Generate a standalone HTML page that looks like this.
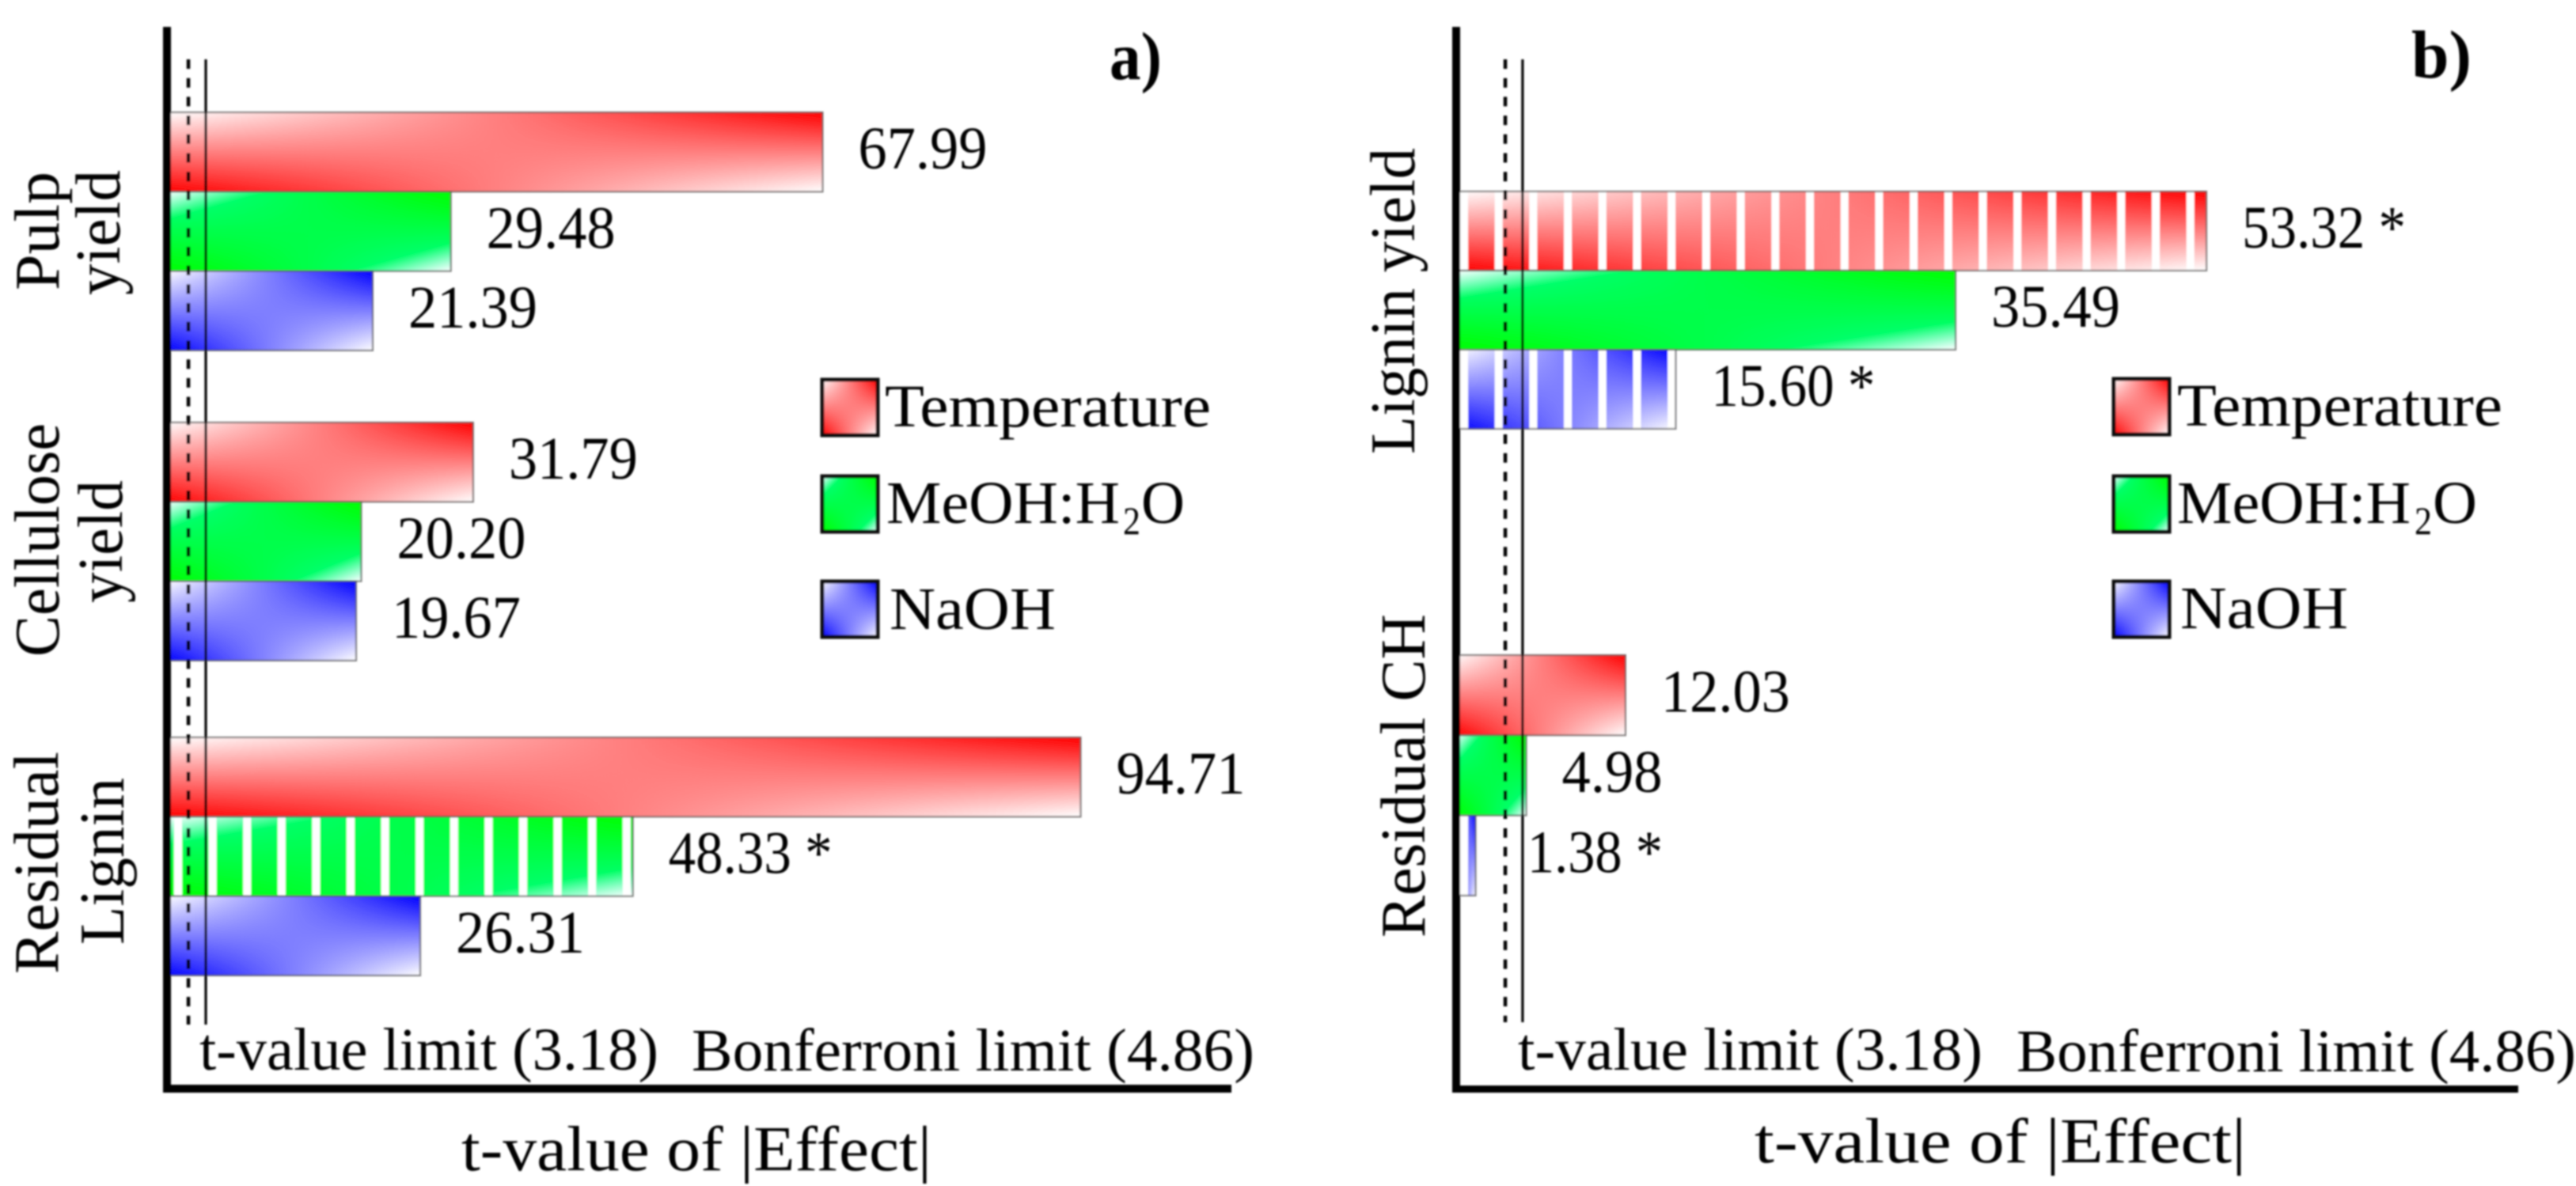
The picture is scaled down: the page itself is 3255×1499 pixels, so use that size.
<!DOCTYPE html>
<html lang="en">
<head>
<meta charset="utf-8">
<title>t-value of |Effect| charts</title>
<style>
html,body{margin:0;padding:0;background:#fff;}
body{width:3255px;height:1499px;overflow:hidden;}
svg{display:block;}
text{font-family:"Liberation Serif",serif;fill:#000;font-size:76px;}
.axis-label{font-size:80px;}
.title{font-weight:bold;font-size:86px;}
</style>
</head>
<body>
<svg id="chart" xmlns="http://www.w3.org/2000/svg" width="3255" height="1499" viewBox="0 0 3255 1499">
<defs>
  <filter id="soft" filterUnits="userSpaceOnUse" x="0" y="0" width="3255" height="1499"><feGaussianBlur stdDeviation="1.1"/></filter>
  <linearGradient id="v-fade" x1="0" y1="0" x2="0" y2="1"><stop offset="0" stop-color="#000"/><stop offset="1" stop-color="#fff"/></linearGradient>
  <mask id="v-mask" maskContentUnits="objectBoundingBox" x="0" y="0" width="1" height="1"><rect x="0" y="0" width="1" height="1" fill="url(#v-fade)"/></mask>
  <linearGradient id="red-top"><stop offset="0" stop-color="#fff"/><stop offset="1" stop-color="#f00"/></linearGradient>
  <linearGradient id="red-bottom"><stop offset="0" stop-color="#f00"/><stop offset="1" stop-color="#fff"/></linearGradient>
  <linearGradient id="blue-top"><stop offset="0" stop-color="#fff"/><stop offset="1" stop-color="#00f"/></linearGradient>
  <linearGradient id="blue-bottom"><stop offset="0" stop-color="#00f"/><stop offset="1" stop-color="#fff"/></linearGradient>
  <linearGradient id="green-top"><stop offset="0" stop-color="#00ff96"/><stop offset="1" stop-color="#0f0"/></linearGradient>
  <linearGradient id="green-bottom"><stop offset="0" stop-color="#0f0"/><stop offset="1" stop-color="#00ff96"/></linearGradient>
  <linearGradient id="green-corners" x1="0" y1="0" x2="1" y2="1">
    <stop offset="0" stop-color="#fff" stop-opacity="1"/><stop offset="0.18" stop-color="#fff" stop-opacity="0"/>
    <stop offset="0.82" stop-color="#fff" stop-opacity="0"/><stop offset="1" stop-color="#fff" stop-opacity="1"/>
  </linearGradient>
</defs>
<rect x="0" y="0" width="3255" height="1499" fill="#fff"/>
<g id="root" filter="url(#soft)">
  <g id="panel-a">
    <g id="marks-a"></g>
    <rect x="206" y="34" width="10" height="1347" fill="#000"/>
    <rect x="206" y="1371" width="1350" height="10" fill="#000"/>
    <text class="title" x="1402" y="100" textLength="66" lengthAdjust="spacingAndGlyphs">a)</text>
    <text class="axis-label" transform="translate(74 367) rotate(-90)" textLength="150" lengthAdjust="spacingAndGlyphs">Pulp</text>
    <text class="axis-label" transform="translate(151 373) rotate(-90)" textLength="158" lengthAdjust="spacingAndGlyphs">yield</text>
    <text class="axis-label" transform="translate(74 830) rotate(-90)" textLength="295" lengthAdjust="spacingAndGlyphs">Cellulose</text>
    <text class="axis-label" transform="translate(154 762) rotate(-90)" textLength="155" lengthAdjust="spacingAndGlyphs">yield</text>
    <text class="axis-label" transform="translate(73 1231) rotate(-90)" textLength="281" lengthAdjust="spacingAndGlyphs">Residual</text>
    <text class="axis-label" transform="translate(156 1194) rotate(-90)" textLength="211" lengthAdjust="spacingAndGlyphs">Lignin</text>
    <text x="252" y="1352" textLength="580" lengthAdjust="spacingAndGlyphs">t-value limit (3.18)</text>
    <text x="874" y="1353" textLength="711" lengthAdjust="spacingAndGlyphs">Bonferroni limit (4.86)</text>
    <text class="axis-label" x="583" y="1479" textLength="594" lengthAdjust="spacingAndGlyphs">t-value of |Effect|</text>
    <g>
      <text x="1118" y="539" textLength="412" lengthAdjust="spacingAndGlyphs">Temperature</text>
      <text><tspan x="1120" y="661" textLength="295" lengthAdjust="spacingAndGlyphs">MeOH:H</tspan><tspan x="1419" y="675" font-size="50" textLength="22" lengthAdjust="spacingAndGlyphs">2</tspan><tspan x="1442" y="661" textLength="55" lengthAdjust="spacingAndGlyphs">O</tspan></text>
      <text x="1124" y="795" textLength="210" lengthAdjust="spacingAndGlyphs">NaOH</text>
    </g>
  </g>
  <g id="panel-b">
    <g id="marks-b"></g>
    <rect x="1835" y="34" width="10" height="1347" fill="#000"/>
    <rect x="1835" y="1372" width="1347" height="9" fill="#000"/>
    <text class="title" x="3047" y="98" textLength="76" lengthAdjust="spacingAndGlyphs">b)</text>
    <text class="axis-label" transform="translate(1787 574) rotate(-90)" textLength="387" lengthAdjust="spacingAndGlyphs">Lignin yield</text>
    <text class="axis-label" transform="translate(1800 1185) rotate(-90)" textLength="409" lengthAdjust="spacingAndGlyphs">Residual CH</text>
    <text x="1918" y="1352" textLength="587" lengthAdjust="spacingAndGlyphs">t-value limit (3.18)</text>
    <text x="2548" y="1354" textLength="707" lengthAdjust="spacingAndGlyphs">Bonferroni limit (4.86)</text>
    <text class="axis-label" x="2217" y="1469" textLength="621" lengthAdjust="spacingAndGlyphs">t-value of |Effect|</text>
    <g>
      <text x="2751" y="538" textLength="411" lengthAdjust="spacingAndGlyphs">Temperature</text>
      <text><tspan x="2751" y="661" textLength="295" lengthAdjust="spacingAndGlyphs">MeOH:H</tspan><tspan x="3051" y="675" font-size="50" textLength="22" lengthAdjust="spacingAndGlyphs">2</tspan><tspan x="3074" y="661" textLength="56" lengthAdjust="spacingAndGlyphs">O</tspan></text>
      <text x="2755" y="794" textLength="212" lengthAdjust="spacingAndGlyphs">NaOH</text>
    </g>
  </g>
</g>
</svg>
<script>
// Data
const seriesNames = ['temperature', 'meoh', 'naoh'];
const categoriesA = ['pulp-yield', 'cellulose-yield', 'residual-lignin'];
const temperatureA = [67.99, 31.79, 94.71];
const meohA = [29.48, 20.20, 48.33];
const naohA = [21.39, 19.67, 26.31];
const starredA = [[false, false, false], [false, false, true], [false, false, false]];
const limitLinesA = [2.3, 4.1];

const categoriesB = ['lignin-yield', 'residual-ch'];
const temperatureB = [53.32, 12.03];
const meohB = [35.49, 4.98];
const naohB = [15.60, 1.38];
const starredB = [[true, false], [false, false], [true, true]];
const limitLinesB = [3.49, 4.72];

const NS = 'http://www.w3.org/2000/svg';
const gradientStems = ['red', 'green', 'blue'];

function make(tag, attrs, parent) {
  const el = document.createElementNS(NS, tag);
  for (const k in attrs) el.setAttribute(k, attrs[k]);
  parent.appendChild(el);
  return el;
}

function paintGradient(group, s, x, y, w, h) {
  const stem = gradientStems[s];
  const base = make('rect', {x: x, y: y, width: w, height: h, fill: 'url(#' + stem + '-top)'}, group);
  
  
  const over = make('rect', {x: x, y: y, width: w, height: h, fill: 'url(#' + stem + '-bottom)', mask: 'url(#v-mask)'}, group);
  
  
  if (stem === 'green') {
    const corners = make('rect', {x: x, y: y, width: w, height: h, fill: 'url(#green-corners)'}, group);
    
    
  }
}

function labelWidth(txt) {
  const digits = txt.replace(/[^0-9]/g, '').length;
  return 36 * digits + 19 + (txt.indexOf('*') >= 0 ? 44 : 0);
}

function drawPanel(p) {
  const root = document.getElementById(p.target);
  const xOf = function (v) { return p.x0 + v * p.unit; };
  const solidX = xOf(p.limits[1]);

  p.categories.forEach(function (cat, g) {
    const rowH = p.rowH[g];
    p.series.forEach(function (values, s) {
      const v = values[g];
      const top = p.tops[g] + s * rowH;
      const bx = xOf(v);
      const w = bx - p.x0;
      const bar = make('g', {}, root);
      
      
      paintGradient(bar, s, p.x0, top, w, rowH);
      if (p.starred[s][g]) {
        for (let sx = p.stripeStart; sx < bx; sx += p.stripeStep) {
          const sw = Math.min(10, bx - sx);
          const stripe = make('rect', {x: sx, y: top, width: sw, height: rowH, fill: '#fff'}, bar);
          
          
        }
      }
      const edge = make('rect', {x: p.x0, y: top, width: w, height: rowH, fill: 'none', stroke: '#555', 'stroke-width': 2.2, 'stroke-opacity': 0.75}, bar);
      
      
    });
  });

  p.limits.forEach(function (v, i) {
    const attrs = {x1: xOf(v), x2: xOf(v), y1: 75, y2: p.limitBottom, stroke: '#000', 'stroke-width': i === 0 ? 4.5 : 3.2};
    if (i === 0) attrs['stroke-dasharray'] = '12 11.7';
    const line = make('line', attrs, root);
    
    
  });

  p.categories.forEach(function (cat, g) {
    const rowH = p.rowH[g];
    p.series.forEach(function (values, s) {
      const v = values[g];
      const txt = v.toFixed(2) + (p.starred[s][g] ? ' *' : '');
      const lx = Math.max(xOf(v) + 45, solidX + 6);
      const ly = p.tops[g] + s * rowH + rowH / 2 + 21;
      const label = make('text', {x: lx, y: ly, textLength: labelWidth(txt), lengthAdjust: 'spacingAndGlyphs'}, root);
      
      
      label.textContent = txt;
    });
  });

  seriesNames.forEach(function (name, s) {
    const swatch = make('g', {}, root);
    
    
    const sy = p.legendY[s];
    paintGradient(swatch, s, p.legendX, sy, 70, 70);
    const box = make('rect', {x: p.legendX, y: sy, width: 70, height: 70, fill: 'none', stroke: '#111', 'stroke-width': 5}, swatch);
    
    
  });
}

drawPanel({
  target: 'marks-a', x0: 210, unit: 12.2,
  categories: categoriesA,
  series: [temperatureA, meohA, naohA],
  starred: starredA,
  limits: limitLinesA, limitBottom: 1295,
  tops: [142, 534, 932], rowH: [100.3, 100.3, 100.3],
  stripeStart: 220, stripeStep: 43.6,
  legendX: 1039, legendY: [480, 602, 735]
});
drawPanel({
  target: 'marks-b', x0: 1840, unit: 17.78,
  categories: categoriesB,
  series: [temperatureB, meohB, naohB],
  starred: starredB,
  limits: limitLinesB, limitBottom: 1292,
  tops: [242, 828], rowH: [100, 101.3],
  stripeStart: 1845, stripeStep: 43.7,
  legendX: 2671, legendY: [479, 602, 735]
});
</script>
</body>
</html>
